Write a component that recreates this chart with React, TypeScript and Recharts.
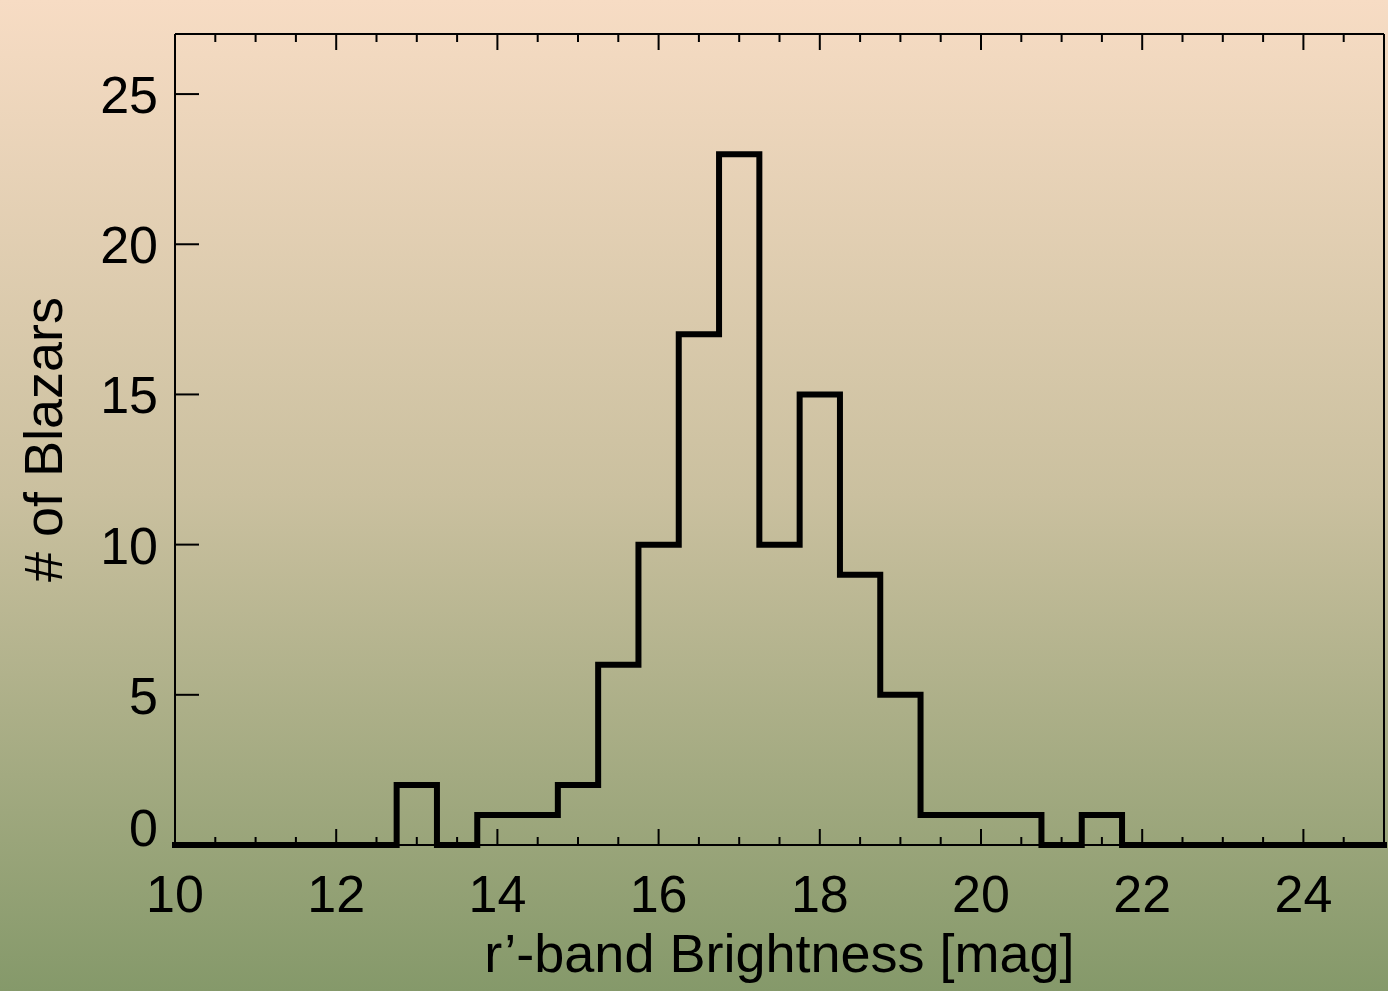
import React from 'react';
import { LineChart, Line, XAxis, YAxis } from 'recharts';

// histogram bin edges (mag) and counts; last edge closes the step at 0
const binEdges = [10, 12.75, 13.25, 13.75, 14.25, 14.75, 15.25, 15.75, 16.25, 16.75, 17.25, 17.75, 18.25, 18.75, 19.25, 19.75, 20.25, 20.75, 21.25, 21.75, 25];
const binCounts = [0, 2, 0, 1, 1, 2, 6, 10, 17, 23, 10, 15, 9, 5, 1, 1, 1, 0, 1, 0, 0];

const xTicks = [10, 10.5, 11, 11.5, 12, 12.5, 13, 13.5, 14, 14.5, 15, 15.5, 16, 16.5, 17, 17.5, 18, 18.5, 19, 19.5, 20, 20.5, 21, 21.5, 22, 22.5, 23, 23.5, 24, 24.5, 25];
const xLabels = [10, 12, 14, 16, 18, 20, 22, 24];
const yTicks = [0, 5, 10, 15, 20, 25];

const data = binEdges.map((mag, i) => ({ mag, count: binCounts[i] }));

const FONT = '"Liberation Sans", Arial, Helvetica, sans-serif';

const XTick = (props: any) => {
  const { x, y, payload, side } = props;
  const v = payload.value;
  const major = v % 2 === 0;
  const len = major ? 16 : 8;
  const dir = side === 'bottom' ? -1 : 1;
  return (
    <g>
      <line x1={x} x2={x} y1={y} y2={y + dir * len} stroke="#000" strokeWidth={2} />
      {side === 'bottom' && xLabels.includes(v) && (
        <text x={x} y={y + 67} textAnchor="middle" fontSize={52} fontFamily={FONT} fill="#000">
          {v}
        </text>
      )}
    </g>
  );
};

const YTick = (props: any) => {
  const { x, y, payload, side } = props;
  const v = payload.value;
  const dir = side === 'left' ? 1 : -1;
  return (
    <g>
      <line x1={x} x2={x + dir * 24} y1={y} y2={y} stroke="#000" strokeWidth={2} />
      {side === 'left' && (
        <text x={x - 17} y={y + (v === 0 ? 1 : 19)} textAnchor="end" fontSize={52} fontFamily={FONT} fill="#000">
          {v}
        </text>
      )}
    </g>
  );
};

export default function App() {
  return (
    <div
      style={{
        position: 'fixed',
        left: 0,
        top: 0,
        width: 1388,
        height: 991,
        background: 'linear-gradient(to bottom, #f7dcc4 0%, #cac09f 50%, #85996a 100%)',
      }}
    >
      <LineChart width={1388} height={991} data={data} margin={{ top: 33, right: 3, left: 0, bottom: 0 }}>
        <XAxis
          dataKey="mag"
          type="number"
          domain={[10, 25]}
          ticks={xTicks}
          interval={0}
          height={146}
          tickSize={0}
          tickMargin={0}
          tickLine={false}
          axisLine={{ stroke: '#000', strokeWidth: 2 }}
          tick={(p: any) => <XTick {...p} side="bottom" />}
          label={(p: any) => {
            const vb = p.viewBox;
            return (
              <text x={vb.x + vb.width / 2} y={vb.y + 127} textAnchor="middle" fontSize={54} fontFamily={FONT} fill="#000">
                r’-band Brightness [mag]
              </text>
            );
          }}
        />
        <XAxis
          xAxisId="top"
          orientation="top"
          dataKey="mag"
          type="number"
          domain={[10, 25]}
          ticks={xTicks}
          interval={0}
          height={1}
          tickSize={0}
          tickMargin={0}
          tickLine={false}
          axisLine={{ stroke: '#000', strokeWidth: 2 }}
          tick={(p: any) => <XTick {...p} side="top" />}
        />
        <YAxis
          type="number"
          domain={[0, 27]}
          ticks={yTicks}
          interval={0}
          width={175}
          tickSize={0}
          tickMargin={0}
          tickLine={false}
          axisLine={{ stroke: '#000', strokeWidth: 2 }}
          tick={(p: any) => <YTick {...p} side="left" />}
          label={(p: any) => {
            const vb = p.viewBox;
            return (
              <text
                transform={`translate(${vb.x + 43}, ${vb.y + vb.height / 2}) rotate(-90)`}
                textAnchor="middle"
                dominantBaseline="central"
                fontSize={54}
                fontFamily={FONT}
                fill="#000"
              >
                # of Blazars
              </text>
            );
          }}
        />
        <YAxis
          yAxisId="right"
          orientation="right"
          type="number"
          domain={[0, 27]}
          ticks={yTicks}
          interval={0}
          width={1}
          tickSize={0}
          tickMargin={0}
          tickLine={false}
          axisLine={{ stroke: '#000', strokeWidth: 2 }}
          tick={(p: any) => <YTick {...p} side="right" />}
        />
        <Line
          type="stepAfter"
          dataKey="count"
          stroke="#000"
          strokeWidth={6}
          strokeLinejoin="miter"
          strokeLinecap="square"
          dot={false}
          activeDot={false}
          isAnimationActive={false}
        />
      </LineChart>
    </div>
  );
}
